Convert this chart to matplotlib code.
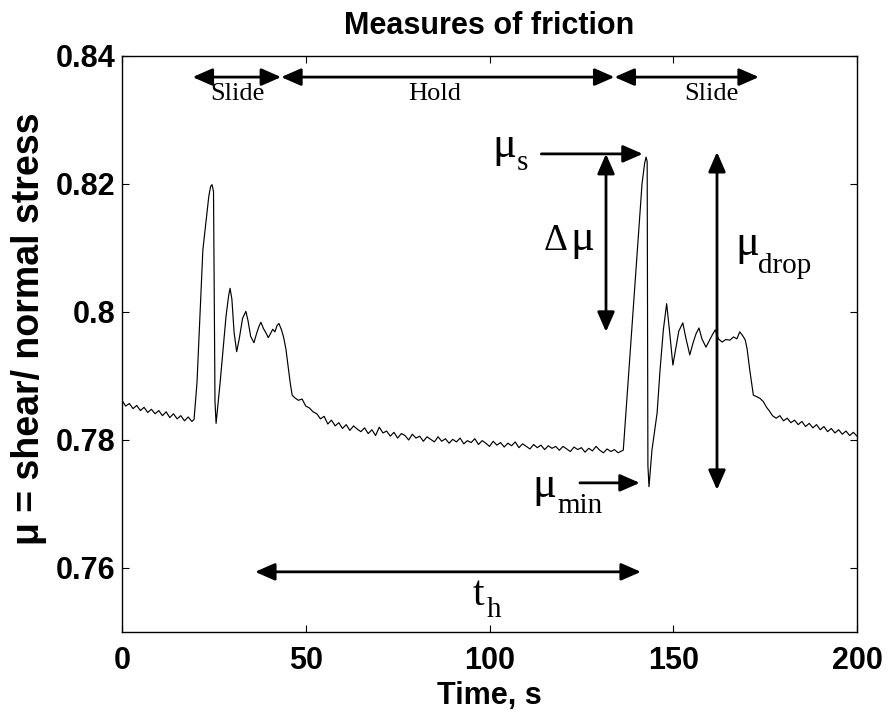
import numpy as np
import matplotlib
matplotlib.use('Agg')
import matplotlib.pyplot as plt

# ==========================================
# ДАННЫЕ
# ==========================================
# до первого скольжения
t_pre = [0, 1, 2, 3, 4, 5, 6, 7, 8, 9, 10, 11, 12, 13, 14, 15, 16, 17, 18, 19]
mu_pre = [0.7862, 0.7853, 0.7857, 0.7849, 0.7854, 0.7846, 0.7851, 0.7843, 0.7848, 0.7841,
          0.7846, 0.7838, 0.7844, 0.7835, 0.7841, 0.7833, 0.7838, 0.7830, 0.7836, 0.7829]

# первое скольжение
t_slide1 = [19.6, 20.4, 22.0, 23.6, 24.1, 24.5, 24.9, 25.3, 25.6, 26.7, 28.3, 29.0, 29.4, 29.9,
            30.5, 31.2, 31.9, 32.8, 33.7, 34.3, 35.0, 35.9, 36.6, 37.3, 37.8, 38.5, 39.2,
            39.8, 40.4, 41.0, 41.6, 42.2, 42.7, 43.4, 44.0, 44.6, 45.2, 45.8, 46.3]
mu_slide1 = [0.7832, 0.7889, 0.8097, 0.8180, 0.8196, 0.8199, 0.8188, 0.7860, 0.7826, 0.7890,
             0.7993, 0.8025, 0.8037, 0.8020, 0.7968, 0.7938, 0.7958, 0.7990, 0.8001, 0.7986,
             0.7962, 0.7952, 0.7966, 0.7978, 0.7984, 0.7974, 0.7967, 0.7960, 0.7966, 0.7973,
             0.7969, 0.7979, 0.7982, 0.7972, 0.7960, 0.7942, 0.7915, 0.7888, 0.7870]

# выдержка (hold)
t_hold = list(range(47, 137))
mu_hold = [0.7866, 0.7862, 0.7864, 0.7853, 0.7850, 0.7844, 0.7841, 0.7833, 0.7837, 0.7825,
           0.7831, 0.7822, 0.7827, 0.7818, 0.7824, 0.7815, 0.7822, 0.7817, 0.7813, 0.7819,
           0.7810, 0.7816, 0.7807, 0.7820, 0.7811, 0.7814, 0.7806, 0.7812, 0.7803, 0.7810,
           0.7807, 0.7800, 0.7809, 0.7803, 0.7806, 0.7798, 0.7805, 0.7801, 0.7797, 0.7805,
           0.7798, 0.7802, 0.7795, 0.7801, 0.7797, 0.7803, 0.7794, 0.7799, 0.7796, 0.7802,
           0.7793, 0.7799, 0.7795, 0.7790, 0.7798, 0.7792, 0.7796, 0.7789, 0.7795, 0.7791,
           0.7797, 0.7788, 0.7794, 0.7790, 0.7786, 0.7793, 0.7788, 0.7792, 0.7785, 0.7791,
           0.7787, 0.7790, 0.7784, 0.7790, 0.7786, 0.7782, 0.7789, 0.7785, 0.7788, 0.7781,
           0.7787, 0.7783, 0.7790, 0.7784, 0.7780, 0.7786, 0.7782, 0.7785, 0.7780, 0.7783]

# второе скольжение
t_slide2 = [136.4, 141.5, 142.2, 142.6, 142.9, 143.1, 143.4, 144.2, 145.6, 146.4, 147.3,
            148.2, 148.9, 149.9, 150.6, 151.5, 152.6, 153.4, 154.5, 155.4, 156.2, 157.0,
            157.8, 158.9, 159.8, 160.6, 161.4, 162.3, 163.3, 164.3, 165.4, 166.4, 167.3,
            168.1, 169.0, 169.6, 170.1, 170.8, 171.8, 172.6, 173.6, 174.5]
mu_slide2 = [0.7784, 0.8200, 0.8232, 0.8242, 0.8235, 0.7760, 0.7727, 0.7784, 0.7842, 0.7909,
             0.7972, 0.8013, 0.7975, 0.7917, 0.7940, 0.7970, 0.7983, 0.7960, 0.7933, 0.7952,
             0.7966, 0.7975, 0.7958, 0.7945, 0.7955, 0.7964, 0.7972, 0.7958, 0.7953, 0.7957,
             0.7956, 0.7961, 0.7958, 0.7969, 0.7962, 0.7956, 0.7942, 0.7910, 0.7870, 0.7868,
             0.7865, 0.7860]

# после скольжения
t_post = [175.4, 176.2, 177, 178, 179, 180, 181, 182, 183, 184, 185, 186, 187, 188, 189,
          190, 191, 192, 193, 194, 195, 196, 197, 198, 199, 200]
mu_post = [0.7851, 0.7845, 0.7838, 0.7834, 0.7838, 0.7830, 0.7834, 0.7827, 0.7831, 0.7824,
           0.7829, 0.7821, 0.7826, 0.7819, 0.7824, 0.7816, 0.7821, 0.7813, 0.7818, 0.7811,
           0.7816, 0.7809, 0.7814, 0.7807, 0.7812, 0.7806]

t_all = np.array(t_pre + t_slide1 + t_hold + t_slide2 + t_post, dtype=float)
mu_all = np.array(mu_pre + mu_slide1 + mu_hold + mu_slide2 + mu_post)

# ==========================================
# ГРАФИК
# ==========================================
fig = plt.figure(figsize=(8.88, 7.13), dpi=100)
ax = fig.add_axes([0.1374, 0.1136, 0.8277, 0.8079])

ax.plot(t_all, mu_all, color='k', linewidth=0.85)

ax.set_xlim(0, 200)
ax.set_ylim(0.75, 0.84)
ax.set_xticks([0, 50, 100, 150, 200])
ax.set_xticklabels(['0', '50', '100', '150', '200'])
ax.set_yticks([0.76, 0.78, 0.80, 0.82, 0.84])
ax.set_yticklabels(['0.76', '0.78', '0.8', '0.82', '0.84'])
ax.tick_params(direction='in', top=True, right=True, length=5, width=0.8)
ax.tick_params(axis='x', pad=10)
ax.tick_params(axis='y', pad=5)
for lbl in ax.get_xticklabels() + ax.get_yticklabels():
    lbl.set_fontsize(22)
    lbl.set_fontweight('bold')
    lbl.set_family('Liberation Sans')
for s in ax.spines.values():
    s.set_linewidth(1.0)

ax.set_xlabel('Time, s', fontsize=22, fontweight='bold', family='Liberation Sans')
ax.xaxis.set_label_coords(0.5, -0.085)
ax.set_ylabel('\u03bc = shear/ normal stress', fontsize=27, fontweight='bold',
              family='Liberation Sans')
ax.yaxis.set_label_coords(-0.102, 0.526)
ax.set_title('Measures of friction', fontsize=22, fontweight='bold',
             family='Liberation Sans', pad=16)

serif = 'Liberation Serif'
arr2 = dict(arrowstyle='<|-|>,head_length=0.8,head_width=0.35', color='k', lw=2,
            shrinkA=0, shrinkB=0, mutation_scale=15)
arr1 = dict(arrowstyle='-|>,head_length=0.8,head_width=0.35', color='k', lw=2,
            shrinkA=0, shrinkB=0, mutation_scale=15)

def arrow(x0, y0, x1, y1, style):
    ax.annotate('', xy=(x1, y1), xytext=(x0, y0), arrowprops=style)

# фазы сверху
y_top = 0.8367
arrow(19.2, y_top, 43.3, y_top, arr2)
arrow(43.3, y_top, 134.0, y_top, arr2)
arrow(134.0, y_top, 173.3, y_top, arr2)
for xc, txt in [(31.3, 'Slide'), (85.2, 'Hold'), (160.5, 'Slide')]:
    ax.text(xc, 0.8340, txt, fontsize=19, family=serif, ha='center', va='center')

# стрелки-обозначения
arrow(114.1, 0.8247, 141.7, 0.8247, arr1)      # mu_s
arrow(131.7, 0.8247, 131.7, 0.7969, arr2)      # delta mu
arrow(161.9, 0.8250, 161.9, 0.7722, arr2)      # mu_drop
arrow(124.6, 0.7733, 140.9, 0.7733, arr1)      # mu_min
arrow(36.2, 0.7594, 141.2, 0.7594, arr2)       # t_h

def label(x, y, main, sub, xs, ys, size_main=32, size_sub=21):
    ax.text(x, y, main, fontsize=size_main, family=serif, ha='left', va='baseline')
    ax.text(xs, ys, sub, fontsize=size_sub, family=serif, ha='left', va='baseline')

label(100.9, 0.8242, '\u03bc', 's', 107.5, 0.8222)
ax.text(114.6, 0.8097, '\u0394', fontsize=27, family=serif, ha='left', va='baseline')
ax.text(122.0, 0.8097, '\u03bc', fontsize=32, family=serif, ha='left', va='baseline')
label(166.8, 0.8089, '\u03bc', 'drop', 173.1, 0.8061)
label(111.8, 0.7711, '\u03bc', 'min', 118.4, 0.7686)
label(95.5, 0.7542, 't', 'h', 99.3, 0.7523, size_main=30)

fig.savefig('out.png', dpi=100)
